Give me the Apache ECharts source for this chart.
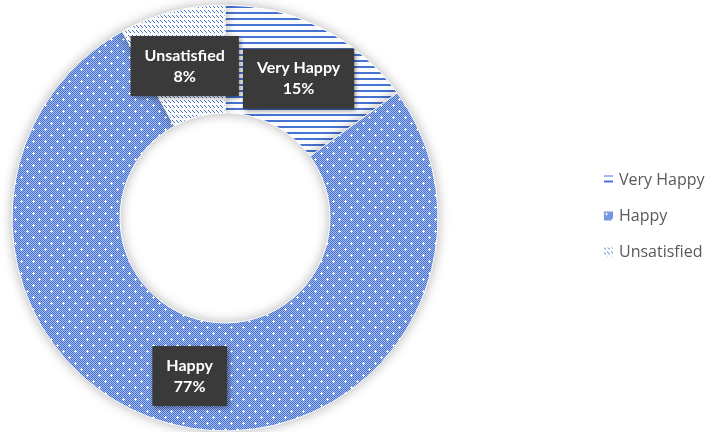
<!DOCTYPE html>
<html>
<head>
<meta charset="utf-8">
<script src="https://cdn.jsdelivr.net/npm/echarts@6/dist/echarts.min.js"></script>
<style>
html,body{margin:0;padding:0;background:#fff;}
#c{width:712px;height:432px;}
</style>
</head>
<body>
<div id="c"></div>
<script>
var categories = ['Very Happy', 'Happy', 'Unsatisfied'];
var values = [15, 77, 8];

function makeTile(w, h, draw) {
  var c = document.createElement('canvas');
  c.width = w; c.height = h;
  var ctx = c.getContext('2d');
  draw(ctx);
  return c;
}
var BLUE = '#4774d4';
var hLines = makeTile(6, 6, function (ctx) {
  ctx.fillStyle = '#fff'; ctx.fillRect(0, 0, 6, 6);
  ctx.fillStyle = BLUE; ctx.fillRect(0, 0, 6, 2);
});
var dotted = makeTile(12, 12, function (ctx) {
  for (var y = 0; y < 12; y++) for (var x = 0; x < 12; x++) {
    ctx.fillStyle = ((x + y) % 2 === 0) ? BLUE : '#a6bced';
    ctx.fillRect(x, y, 1, 1);
  }
  ctx.fillStyle = '#ffffff';
  function plus(cx, cy) {
    ctx.fillRect(cx - 1, cy, 3, 1);
    ctx.fillRect(cx, cy - 1, 1, 3);
  }
  plus(3, 3); plus(9, 9);
});
var diag = makeTile(4, 5, function (ctx) {
  ctx.fillStyle = '#fff'; ctx.fillRect(0, 0, 4, 5);
  ctx.fillStyle = BLUE;
  ctx.fillRect(0, 0, 1, 1); ctx.fillRect(1, 1, 1, 1); ctx.fillRect(2, 2, 1, 1);
});
var patterns = [hLines, dotted, diag];

var chart = echarts.init(document.getElementById('c'), null, {renderer: 'canvas'});
chart.setOption({
  animation: false,
  backgroundColor: '#ffffff',
  legend: {
    orient: 'vertical',
    left: 597,
    top: 'middle',
    icon: 'rect',
    itemWidth: 11,
    itemHeight: 11,
    itemGap: 20,
    textStyle: {fontSize: 16, color: '#595959', fontFamily: 'Open Sans'},
    data: categories
  },
  series: [{
    type: 'pie',
    center: [225, 218],
    radius: [105, 213],
    startAngle: 90,
    clockwise: true,
    avoidLabelOverlap: false,
    itemStyle: {
      borderColor: '#ffffff',
      borderWidth: 1,
      shadowBlur: 12,
      shadowColor: 'rgba(0,0,0,0.28)'
    },
    label: {
      show: true,
      position: 'inside',
      formatter: '{b}\n{c}%',
      color: '#ffffff',
      fontWeight: 'bold',
      fontSize: 16,
      fontFamily: 'Lato',
      lineHeight: 21,
      backgroundColor: '#3a3a3a',
      padding: [9, 14],
      shadowBlur: 5,
      shadowColor: 'rgba(0,0,0,0.45)',
      shadowOffsetX: 2,
      shadowOffsetY: 2
    },
    labelLine: {show: false},
    data: categories.map(function (n, i) {
      return {
        name: n,
        value: values[i],
        itemStyle: {color: {image: patterns[i], repeat: 'repeat'}},
        label: i === 1 ? {} : {offset: [0, 5]}
      };
    })
  }]
});
</script>
</body>
</html>
